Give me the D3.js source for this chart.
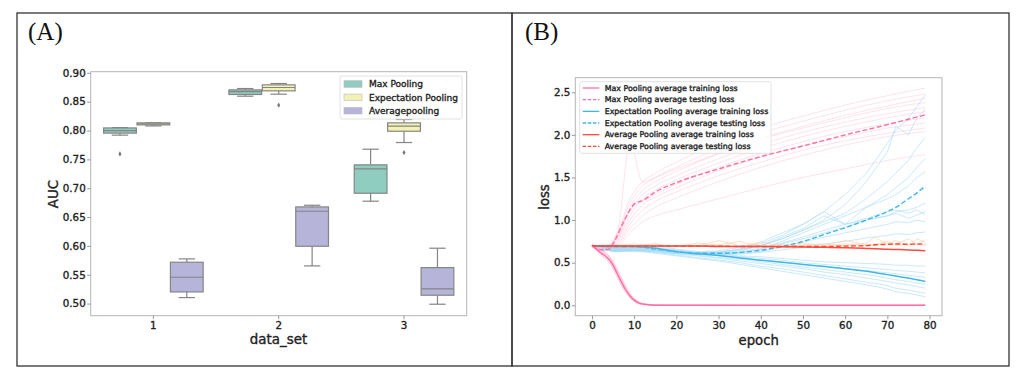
<!DOCTYPE html>
<html><head><meta charset="utf-8">
<script src="https://cdn.jsdelivr.net/npm/d3@7/dist/d3.min.js"></script>
<style>body{margin:0;background:#fff}svg{display:block}text{font-family:"DejaVu Sans",sans-serif}
.bt{stroke:#222;stroke-width:0.35px}</style>
</head><body>
<svg id="c" width="1024" height="377"></svg>
<script>
// ---------- Panel A data ----------
const dataSets = ["1","2","3"];
const poolings = ["Max Pooling","Expectation Pooling","Averagepooling"];
const boxColors = ["#8fcdc0","#f2f2b4","#b6b4d8"];
// [whiskerLow, q1, median, q3, whiskerHigh] per data set, per pooling
const maxPoolingBox  = [[0.792,0.7955,0.800,0.8045,0.805],[0.8595,0.8625,0.8675,0.8705,0.8728],[0.6775,0.6913,0.7335,0.7405,0.7676]];
const expPoolingBox  = [[0.808,0.8098,0.8116,0.8133,0.8133],[0.863,0.8688,0.8746,0.8792,0.8815],[0.7792,0.7988,0.8075,0.8133,0.8191]];
const avgPoolingBox  = [[0.5104,0.5202,0.5457,0.5717,0.5775],[0.5653,0.5994,0.6601,0.6676,0.6705],[0.4989,0.5145,0.5254,0.5624,0.596]];
const maxPoolingOut = [[0.7595],[],[]];
const expPoolingOut = [[],[0.8439],[0.7618]];
const avgPoolingOut = [[],[],[]];
const aucTicks = [0.50,0.55,0.60,0.65,0.70,0.75,0.80,0.85,0.90];

// ---------- Panel B data ----------
const epochTicks = [0,10,20,30,40,50,60,70,80];
const lossTicks = [0.0,0.5,1.0,1.5,2.0,2.5];
const legendB = ["Max Pooling average training loss","Max Pooling average testing loss","Expectation Pooling average training loss","Expectation Pooling average testing loss","Average Pooling average training loss","Average Pooling average testing loss"];

const maxTrainEpochs = [0,2,4,5,6,7,8,9,10,11,12,14,16,20,79];
const maxTrainAvg  = [0.70,0.62,0.54,0.47,0.37,0.27,0.18,0.11,0.06,0.03,0.015,0.005,0.002,0.001,0.0];
const maxTrainRuns = [
  [0.70,0.64,0.57,0.51,0.42,0.32,0.22,0.14,0.08,0.04,0.02,0.008,0.003,0.001,0.0],
  [0.70,0.60,0.51,0.43,0.33,0.23,0.15,0.09,0.045,0.02,0.01,0.004,0.001,0.0,0.0],
  [0.72,0.66,0.58,0.50,0.40,0.30,0.20,0.12,0.07,0.035,0.018,0.006,0.002,0.001,0.0]
];

const maxTestEpochs = [0,2,4,5,6,7,8,9,10,12,15,20,30,40,50,60,70,79];
const maxTestAvg = [0.70,0.65,0.66,0.72,0.82,0.93,1.03,1.12,1.19,1.23,1.33,1.44,1.60,1.745,1.87,2.00,2.12,2.235];
const runEpochs = [0,3,6,9,12,15,20,30,40,50,60,70,79];
const maxTestRuns = [
  [0.70,0.68,0.85,1.25,1.45,1.55,1.68,1.90,2.08,2.22,2.35,2.46,2.55],
  [0.70,0.67,0.82,1.20,1.40,1.50,1.62,1.84,2.02,2.16,2.29,2.40,2.48],
  [0.70,0.66,0.80,1.15,1.35,1.45,1.57,1.78,1.96,2.10,2.23,2.34,2.43],
  [0.70,0.67,0.85,1.90,1.45,1.50,1.60,1.78,1.95,2.08,2.20,2.31,2.38],
  [0.70,0.66,0.78,1.10,1.30,1.40,1.52,1.72,1.89,2.03,2.15,2.25,2.32],
  [0.70,0.65,0.76,1.05,1.25,1.35,1.47,1.67,1.84,1.98,2.10,2.20,2.27],
  [0.70,0.66,0.80,1.12,1.22,1.30,1.42,1.62,1.78,1.92,2.04,2.13,2.20],
  [0.70,0.65,0.74,1.00,1.18,1.27,1.38,1.58,1.74,1.87,1.98,2.08,2.14],
  [0.70,0.65,0.72,0.95,1.12,1.22,1.33,1.52,1.68,1.82,1.93,2.02,2.08],
  [0.70,0.64,0.70,0.90,1.05,1.15,1.26,1.45,1.62,1.76,1.88,1.98,2.04],
  [0.70,0.64,0.68,0.85,0.98,1.05,1.12,1.25,1.38,1.50,1.60,1.70,1.77]
];

const blueEpochs = [0,5,10,15,20,25,30,35,40,45,50,55,60,65,70,72,75,77,79];
const expTrainAvg = [0.70,0.69,0.69,0.67,0.63,0.605,0.585,0.555,0.53,0.505,0.48,0.455,0.43,0.40,0.36,0.345,0.32,0.30,0.28];
const expTestAvg  = [0.70,0.69,0.69,0.66,0.63,0.61,0.61,0.62,0.645,0.69,0.75,0.83,0.91,1.00,1.10,1.15,1.25,1.32,1.40];
const expTrainRuns = [
  [0.70,0.68,0.68,0.67,0.64,0.62,0.60,0.58,0.57,0.55,0.53,0.51,0.50,0.49,0.48,0.47,0.47,0.46,0.46],
  [0.70,0.68,0.68,0.66,0.63,0.61,0.59,0.57,0.55,0.53,0.50,0.48,0.46,0.44,0.42,0.41,0.40,0.39,0.38],
  [0.70,0.67,0.67,0.65,0.62,0.60,0.58,0.56,0.53,0.51,0.48,0.46,0.43,0.41,0.38,0.37,0.35,0.34,0.33],
  [0.70,0.67,0.66,0.64,0.61,0.59,0.56,0.54,0.51,0.48,0.45,0.42,0.39,0.36,0.32,0.30,0.28,0.26,0.25],
  [0.70,0.66,0.65,0.63,0.60,0.58,0.55,0.52,0.49,0.46,0.43,0.39,0.36,0.32,0.28,0.26,0.24,0.22,0.20],
  [0.70,0.66,0.65,0.62,0.59,0.56,0.53,0.50,0.46,0.43,0.39,0.35,0.31,0.27,0.23,0.20,0.18,0.16,0.14],
  [0.70,0.65,0.64,0.61,0.58,0.55,0.52,0.48,0.44,0.40,0.36,0.32,0.28,0.24,0.19,0.16,0.14,0.12,0.10]
];
const expTestRuns = [
  [0.70,0.66,0.70,0.72,0.66,0.63,0.64,0.68,0.72,0.82,0.95,1.10,1.30,1.55,1.90,2.05,2.20,2.33,2.47],
  [0.70,0.65,0.68,0.70,0.65,0.62,0.62,0.66,0.70,0.78,0.88,1.00,1.18,1.45,1.80,2.10,2.00,2.20,2.30],
  [0.70,0.64,0.66,0.68,0.64,0.62,0.63,0.65,0.70,0.78,0.88,0.98,1.08,1.25,1.45,1.55,1.70,1.85,1.97],
  [0.70,0.65,0.67,0.68,0.64,0.61,0.60,0.62,0.66,0.75,0.85,0.95,1.05,1.15,1.30,1.38,1.50,1.62,1.72],
  [0.70,0.63,0.65,0.66,0.63,0.62,0.62,0.64,0.70,0.80,0.90,1.05,0.95,1.15,1.25,1.30,1.40,1.50,1.57],
  [0.70,0.64,0.65,0.64,0.62,0.60,0.60,0.62,0.65,0.72,0.78,0.85,0.92,1.00,1.05,1.10,1.12,1.15,1.20],
  [0.70,0.64,0.66,0.65,0.62,0.61,0.62,0.66,0.74,0.85,0.95,1.10,0.95,1.00,1.05,1.08,1.02,1.06,1.10],
  [0.70,0.63,0.64,0.64,0.61,0.60,0.60,0.61,0.63,0.68,0.74,0.80,0.85,0.90,0.95,0.98,0.97,1.00,0.98],
  [0.70,0.63,0.63,0.63,0.61,0.60,0.59,0.60,0.62,0.65,0.68,0.72,0.75,0.79,0.82,0.84,0.83,0.85,0.86],
  [0.70,0.64,0.65,0.64,0.62,0.61,0.61,0.63,0.67,0.73,0.80,0.88,0.95,1.02,1.10,1.12,1.08,1.12,1.06]
];

const redEpochs = [0,5,10,15,20,25,30,35,40,45,50,55,60,65,67,70,72,75,77,79];
const avgTrainAvg = [0.70,0.695,0.695,0.695,0.695,0.695,0.69,0.69,0.69,0.688,0.685,0.68,0.675,0.668,0.665,0.658,0.655,0.65,0.645,0.64];
const avgTestAvg  = [0.70,0.695,0.695,0.695,0.695,0.695,0.695,0.69,0.69,0.69,0.69,0.69,0.695,0.70,0.71,0.715,0.72,0.715,0.72,0.715];
const avgRuns = [
  [0.70,0.69,0.70,0.69,0.70,0.70,0.76,0.70,0.70,0.69,0.71,0.72,0.70,0.73,0.80,0.72,0.76,0.70,0.78,0.74],
  [0.70,0.71,0.69,0.72,0.69,0.73,0.70,0.69,0.74,0.70,0.70,0.69,0.72,0.70,0.72,0.75,0.70,0.73,0.71,0.77],
  [0.70,0.70,0.72,0.70,0.70,0.69,0.71,0.75,0.69,0.71,0.73,0.70,0.76,0.71,0.70,0.73,0.72,0.78,0.72,0.70]
];

const pink = "#ff6fa6", blue = "#3fb8e8", red = "#ff4a3a";

// ---------- drawing ----------
const svg = d3.select("#c");
const ink = "#222";

// panel frames
svg.append("rect").attr("x",17).attr("y",13).attr("width",495).attr("height",353)
  .attr("fill","none").attr("stroke","#333").attr("stroke-width",1.3);
svg.append("rect").attr("x",512).attr("y",13).attr("width",497).attr("height",353)
  .attr("fill","none").attr("stroke","#333").attr("stroke-width",1.3);
svg.append("text").attr("x",28).attr("y",39.5).text("(A)")
  .style("font-family","'Liberation Serif',serif").style("font-size","25px").attr("fill","#111");
svg.append("text").attr("x",525).attr("y",39.5).text("(B)")
  .style("font-family","'Liberation Serif',serif").style("font-size","25px").attr("fill","#111");

// ===== Panel A =====
const aL=90.7,aR=466.7,aT=71.7,aB=315.7;
const yA = d3.scaleLinear().domain([0.479,0.902]).range([aB,aT]);
const xA = d3.scaleBand().domain(dataSets).range([aL,aR]).padding(0);
const hueW = xA.bandwidth()*0.8/3;
const gA = svg.append("g");
const boxes = [maxPoolingBox,expPoolingBox,avgPoolingBox];
const outs = [maxPoolingOut,expPoolingOut,avgPoolingOut];
const lineC = "#858585";
dataSets.forEach((ds,i)=>{
  poolings.forEach((p,h)=>{
    const [wl,q1,md,q3,wh] = boxes[h][i];
    const cx = xA(ds)+xA.bandwidth()/2 + (h-1)*hueW;
    const bw = hueW*0.98;
    const g = gA.append("g");
    g.append("line").attr("x1",cx).attr("x2",cx).attr("y1",yA(wl)).attr("y2",yA(q1)).attr("stroke",lineC).attr("stroke-width",1.2);
    g.append("line").attr("x1",cx).attr("x2",cx).attr("y1",yA(wh)).attr("y2",yA(q3)).attr("stroke",lineC).attr("stroke-width",1.2);
    g.append("line").attr("x1",cx-bw/4).attr("x2",cx+bw/4).attr("y1",yA(wl)).attr("y2",yA(wl)).attr("stroke",lineC).attr("stroke-width",1.2);
    g.append("line").attr("x1",cx-bw/4).attr("x2",cx+bw/4).attr("y1",yA(wh)).attr("y2",yA(wh)).attr("stroke",lineC).attr("stroke-width",1.2);
    g.append("rect").attr("x",cx-bw/2).attr("width",bw).attr("y",yA(q3)).attr("height",Math.max(1,yA(q1)-yA(q3)))
      .attr("fill",boxColors[h]).attr("stroke",lineC).attr("stroke-width",1.2);
    g.append("line").attr("x1",cx-bw/2).attr("x2",cx+bw/2).attr("y1",yA(md)).attr("y2",yA(md)).attr("stroke",lineC).attr("stroke-width",1.2);
    outs[h][i].forEach(v=>{
      g.append("path").attr("d",d3.symbol(d3.symbolDiamond,8)()).attr("transform",`translate(${cx},${yA(v)})`).attr("fill","#777");
    });
  });
});
// axes A
const spine="#b5b5b5";
svg.append("rect").attr("x",aL).attr("y",aT).attr("width",aR-aL).attr("height",aB-aT).attr("fill","none").attr("stroke",spine).attr("stroke-width",1);
const yAxA = svg.append("g").attr("transform",`translate(${aL},0)`).call(d3.axisLeft(yA).tickValues(aucTicks).tickFormat(d3.format(".2f")).tickSize(3.5).tickPadding(1.5));
const xAxA = svg.append("g").attr("transform",`translate(0,${aB})`).call(d3.axisBottom(xA).tickSize(3.5).tickPadding(2.5));
[yAxA,xAxA].forEach(a=>{a.select(".domain").remove();a.selectAll("line").attr("stroke","#999");
  a.selectAll("text").attr("fill",ink).attr("class","bt").style("font-size","10.3px").style("font-family","'DejaVu Sans',sans-serif");});
svg.append("text").attr("class","bt").attr("transform","translate(58,194) rotate(-90)").attr("text-anchor","middle").text("AUC").attr("fill",ink).style("font-size","13.4px");
svg.append("text").attr("class","bt").attr("x",278.5).attr("y",344).attr("text-anchor","middle").text("data_set").attr("fill",ink).style("font-size","13.4px");
// legend A
const lgA = svg.append("g");
lgA.append("rect").attr("x",340).attr("y",76).attr("width",122).attr("height",43).attr("fill","#fff").attr("fill-opacity",0.85).attr("stroke","#e2e2e2").attr("rx",2);
poolings.forEach((p,h)=>{
  const yy = 84 + h*13.35;
  lgA.append("rect").attr("x",344).attr("y",yy-3.3).attr("width",18).attr("height",6.6).attr("fill",boxColors[h]).attr("stroke","#bbb").attr("stroke-width",0.6);
  lgA.append("text").attr("class","bt").attr("x",369).attr("y",yy).attr("dy","0.35em").text(p).attr("fill",ink).style("font-size","9px");
});

// ===== Panel B =====
const bL=575.3,bR=942,bT=77.7,bB=315.7;
const xB = d3.scaleLinear().domain([-3.95,82.95]).range([bL,bR]);
const yB = d3.scaleLinear().domain([-0.122,2.671]).range([bB,bT]);
const gB = svg.append("g");
function drawLine(ep, vals, color, width, opacity, dash, curve){
  gB.append("path").datum(vals.map((v,k)=>[ep[k],v]))
    .attr("d", d3.line().x(d=>xB(d[0])).y(d=>yB(d[1])).curve(curve||d3.curveLinear))
    .attr("fill","none").attr("stroke",color).attr("stroke-width",width).attr("stroke-opacity",opacity)
    .attr("stroke-dasharray",dash||null).attr("stroke-linejoin","round");
}
// faint runs
maxTestRuns.forEach(r=>drawLine(runEpochs,r,"#ffa6c4",1,0.32,null,d3.curveMonotoneX));
maxTrainRuns.forEach(r=>drawLine(maxTrainEpochs,r,"#ff9fbe",1.2,0.45,null,d3.curveMonotoneX));
expTestRuns.forEach(r=>drawLine(blueEpochs,r,"#a5dbf6",1,0.6));
expTrainRuns.forEach(r=>drawLine(blueEpochs,r,"#a5dbf6",1,0.6,null,d3.curveMonotoneX));
avgRuns.forEach(r=>drawLine(redEpochs,r,"#ffc69a",1,0.55));
// average lines
const dsh = "5,2.4";
drawLine(maxTrainEpochs,maxTrainAvg,pink,1.5,1,null,d3.curveMonotoneX);
drawLine(maxTestEpochs,maxTestAvg,pink,1.4,1,dsh,d3.curveMonotoneX);
drawLine(blueEpochs,expTrainAvg,blue,1.5,1,null,d3.curveMonotoneX);
drawLine(blueEpochs,expTestAvg,blue,1.4,1,dsh,d3.curveMonotoneX);
drawLine(redEpochs,avgTrainAvg,red,1.5,1,null,d3.curveMonotoneX);
drawLine(redEpochs,avgTestAvg,red,1.4,1,dsh,d3.curveMonotoneX);
// axes B
svg.append("rect").attr("x",bL).attr("y",bT).attr("width",bR-bL).attr("height",bB-bT).attr("fill","none").attr("stroke",spine).attr("stroke-width",1);
const yAxB = svg.append("g").attr("transform",`translate(${bL},0)`).call(d3.axisLeft(yB).tickValues(lossTicks).tickFormat(d3.format(".1f")).tickSize(3.5).tickPadding(1.5));
const xAxB = svg.append("g").attr("transform",`translate(0,${bB})`).call(d3.axisBottom(xB).tickValues(epochTicks).tickFormat(d3.format("d")).tickSize(3.5).tickPadding(2.5));
[yAxB,xAxB].forEach(a=>{a.select(".domain").remove();a.selectAll("line").attr("stroke","#999");
  a.selectAll("text").attr("fill",ink).attr("class","bt").style("font-size","10.3px").style("font-family","'DejaVu Sans',sans-serif");});
svg.append("text").attr("class","bt").attr("transform","translate(549,197) rotate(-90)").attr("text-anchor","middle").text("loss").attr("fill",ink).style("font-size","13.2px");
svg.append("text").attr("class","bt").attr("x",758.7).attr("y",345).attr("text-anchor","middle").text("epoch").attr("fill",ink).style("font-size","13.2px");
// legend B
const lgB = svg.append("g");
lgB.append("rect").attr("x",579.7).attr("y",81.7).attr("width",191.3).attr("height",71.6).attr("fill","#fff").attr("fill-opacity",0.85).attr("stroke","#e2e2e2").attr("rx",2);
const lgColors=[pink,pink,blue,blue,red,red];
legendB.forEach((t,k)=>{
  const yy = 88 + k*11.67;
  lgB.append("line").attr("x1",582.7).attr("x2",599.3).attr("y1",yy).attr("y2",yy).attr("stroke",lgColors[k]).attr("stroke-width",1.3)
    .attr("stroke-dasharray",k%2?"3.5,1.6":null);
  lgB.append("text").attr("class","bt").attr("x",604.7).attr("y",yy).attr("dy","0.35em").text(t).attr("fill",ink).style("font-size","7.9px");
});
</script>
</body></html>
